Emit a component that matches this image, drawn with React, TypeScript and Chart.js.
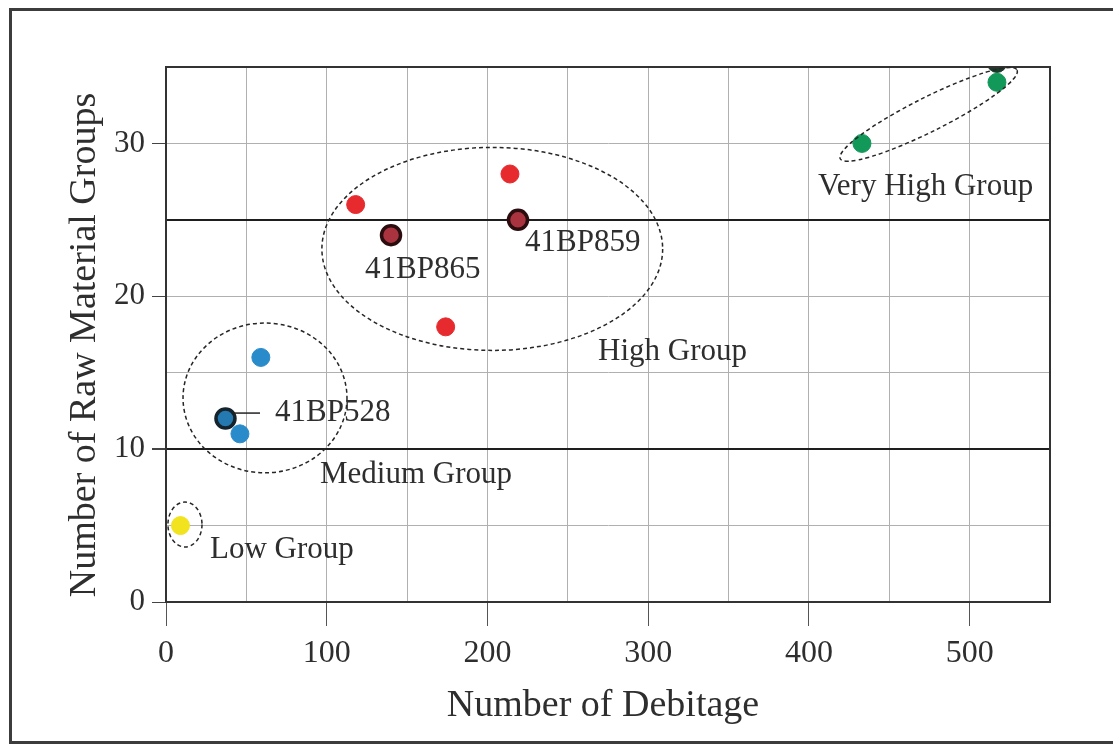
import { useEffect, useRef } from 'react';
import { Chart, registerables } from 'chart.js';

Chart.register(...registerables);

const FONT = "'Liberation Serif', 'Times New Roman', serif";
const INK = '#2e2e2e';

// Samples: number of debitage (x) vs number of raw material groups (y)
const lowDebitage = [9];
const lowGroups = [5];

const mediumDebitage = [59, 46];
const mediumGroups = [16, 11];

const mediumKeyDebitage = [37]; // 41BP528
const mediumKeyGroups = [12];

const highDebitage = [118, 214, 174];
const highGroups = [26, 28, 18];

const highKeyDebitage = [140, 219]; // 41BP865, 41BP859
const highKeyGroups = [24, 25];

const veryHighDebitage = [433, 517];
const veryHighGroups = [30, 34];

const veryHighKeyDebitage = [517];
const veryHighKeyGroups = [35.3];

// Axis ticks
const xTickLabels = [0, 100, 200, 300, 400, 500];
const yTickLabels = [0, 10, 20, 30];
const groupBoundaries = [10, 25];

// Dashed group outlines, in data units
const outlines = [
  { cx: 203, cy: 23.1, rx: 106, ry: 6.64 },
  { cx: 61.6, cy: 13.35, rx: 51, ry: 4.9 },
  { cx: 11.8, cy: 5.07, rx: 10.6, ry: 1.47 },
];
// Tilted outline, given by the two ends of its long axis
const tiltedOutline = { x1: 419.5, y1: 29.0, x2: 529.5, y2: 34.8, halfWidth: 17 };

// Text annotations (left edge, vertical middle), in data units
const annotations = [
  { text: '41BP865', x: 123.8, y: 21.7 },
  { text: '41BP859', x: 223.4, y: 23.5 },
  { text: '41BP528', x: 67.8, y: 12.36 },
  { text: 'High Group', x: 268.8, y: 16.35 },
  { text: 'Medium Group', x: 95.8, y: 8.3 },
  { text: 'Low Group', x: 27.4, y: 3.4 },
  { text: 'Very High Group', x: 405.6, y: 27.15 },
];
const leader = { x1: 41, x2: 58.5, y: 12.36 };

const xTitle = 'Number of Debitage';
const yTitle = 'Number of Raw Material Groups';

const pts = (xs: number[], ys: number[]) => xs.map((x, i) => ({ x, y: ys[i] }));

const decorations = {
  id: 'decorations',
  beforeDraw(chart: any) {
    const { ctx } = chart;
    ctx.save();
    ctx.fillStyle = '#ffffff';
    ctx.fillRect(0, 0, chart.width, chart.height);
    // outer frame
    ctx.strokeStyle = '#3c3c3c';
    ctx.lineWidth = 3;
    ctx.beginPath();
    ctx.moveTo(chart.width + 5, 9.5);
    ctx.lineTo(10.5, 9.5);
    ctx.lineTo(10.5, 742.5);
    ctx.lineTo(chart.width + 5, 742.5);
    ctx.stroke();
    ctx.restore();
  },
  afterDatasetsDraw(chart: any) {
    const { ctx, chartArea: a } = chart;
    const xs = chart.scales.x;
    const ys = chart.scales.y;
    ctx.save();
    // plot frame, top and right
    ctx.strokeStyle = '#333';
    ctx.lineWidth = 2;
    ctx.beginPath();
    ctx.moveTo(a.left, a.top);
    ctx.lineTo(a.right, a.top);
    ctx.lineTo(a.right, a.bottom);
    ctx.stroke();

    // group outlines
    ctx.strokeStyle = '#262626';
    ctx.lineWidth = 1.5;
    ctx.setLineDash([4, 3]);
    outlines.forEach((o) => {
      const cx = xs.getPixelForValue(o.cx);
      const cy = ys.getPixelForValue(o.cy);
      const rx = Math.abs(xs.getPixelForValue(o.cx + o.rx) - cx);
      const ry = Math.abs(ys.getPixelForValue(o.cy + o.ry) - cy);
      ctx.beginPath();
      ctx.ellipse(cx, cy, rx, ry, 0, 0, Math.PI * 2);
      ctx.stroke();
    });
    {
      const px1 = xs.getPixelForValue(tiltedOutline.x1);
      const py1 = ys.getPixelForValue(tiltedOutline.y1);
      const px2 = xs.getPixelForValue(tiltedOutline.x2);
      const py2 = ys.getPixelForValue(tiltedOutline.y2);
      const cx = (px1 + px2) / 2;
      const cy = (py1 + py2) / 2;
      const rx = Math.hypot(px2 - px1, py2 - py1) / 2;
      const ang = Math.atan2(py2 - py1, px2 - px1);
      ctx.beginPath();
      ctx.ellipse(cx, cy, rx, tiltedOutline.halfWidth, ang, 0, Math.PI * 2);
      ctx.stroke();
    }
    ctx.setLineDash([]);

    // leader line to 41BP528
    ctx.strokeStyle = '#222';
    ctx.lineWidth = 1.5;
    ctx.beginPath();
    ctx.moveTo(xs.getPixelForValue(leader.x1), ys.getPixelForValue(leader.y));
    ctx.lineTo(xs.getPixelForValue(leader.x2), ys.getPixelForValue(leader.y));
    ctx.stroke();

    // annotations
    ctx.fillStyle = INK;
    ctx.font = `31px ${FONT}`;
    ctx.textAlign = 'left';
    ctx.textBaseline = 'middle';
    annotations.forEach((t) => {
      ctx.fillText(t.text, xs.getPixelForValue(t.x), ys.getPixelForValue(t.y));
    });

    // axis titles
    ctx.font = `38px ${FONT}`;
    ctx.textAlign = 'center';
    ctx.fillText(xTitle, (a.left + a.right) / 2 - 5, 706);
    ctx.translate(85, 345);
    ctx.rotate(-Math.PI / 2);
    ctx.fillText(yTitle, 0, 0);
    ctx.restore();
  },
};

export default function App() {
  const canvasRef = useRef<HTMLCanvasElement | null>(null);

  useEffect(() => {
    const canvas = canvasRef.current;
    if (!canvas) return;
    const point = (fill: string, border: string, r: number, bw: number) => ({
      backgroundColor: fill,
      borderColor: border,
      pointRadius: r,
      pointBorderWidth: bw,
      pointHoverRadius: r,
    });
    const chart = new Chart(canvas, {
      type: 'scatter',
      data: {
        datasets: [
          { label: 'Medium', data: pts(mediumDebitage, mediumGroups), ...point('#2a8bcb', '#2a8bcb', 9, 1) },
          { label: 'Medium key', data: pts(mediumKeyDebitage, mediumKeyGroups), ...point('#2379b0', '#14232c', 9.5, 3.5) },
          { label: 'Low', data: pts(lowDebitage, lowGroups), ...point('#f2e31f', '#f2e31f', 9, 1) },
          { label: 'High key', data: pts(highKeyDebitage, highKeyGroups), ...point('#a9343f', '#2b0d10', 9.5, 3.5) },
          { label: 'High', data: pts(highDebitage, highGroups), ...point('#e72a2d', '#e72a2d', 9, 1) },
          { label: 'Very high', data: pts(veryHighDebitage, veryHighGroups), ...point('#12995a', '#12995a', 9, 1) },
          { label: 'Very high key', data: pts(veryHighKeyDebitage, veryHighKeyGroups), clip: 0, ...point('#1b3a2a', '#1b3a2a', 10, 1) },
        ] as any,
      },
      options: {
        animation: false,
        responsive: false,
        maintainAspectRatio: false,
        events: [],
        layout: { padding: { top: 67, right: 63, left: 0, bottom: 0 } },
        plugins: { legend: { display: false }, tooltip: { enabled: false } },
        scales: {
          x: {
            type: 'linear',
            min: 0,
            max: 550,
            afterFit: (s: any) => {
              s.height = 142;
            },
            ticks: {
              stepSize: 50,
              autoSkip: false,
              maxRotation: 0,
              padding: 8,
              color: INK,
              font: { family: FONT, size: 32 },
              callback: (v: any) => (xTickLabels.includes(Number(v)) ? String(v) : ''),
            },
            grid: {
              color: '#b0b0b0',
              lineWidth: 1,
              tickLength: 24,
              tickColor: (c: any) => (xTickLabels.includes(c.tick?.value) ? '#555' : 'rgba(0,0,0,0)'),
            },
            border: { color: '#333', width: 2 },
          },
          y: {
            type: 'linear',
            min: 0,
            max: 35,
            afterFit: (s: any) => {
              s.width = 166;
            },
            ticks: {
              stepSize: 5,
              autoSkip: false,
              padding: 7,
              color: INK,
              font: { family: FONT, size: 31 },
              callback: (v: any) => (yTickLabels.includes(Number(v)) ? String(v) : ''),
            },
            grid: {
              color: (c: any) => (groupBoundaries.includes(c.tick?.value) ? '#1e1e1e' : '#b0b0b0'),
              lineWidth: (c: any) => (groupBoundaries.includes(c.tick?.value) ? 2 : 1),
              tickLength: 14,
              tickColor: (c: any) => (yTickLabels.includes(c.tick?.value) ? '#444' : 'rgba(0,0,0,0)'),
            },
            border: { color: '#333', width: 2 },
          },
        },
      },
      plugins: [decorations],
    });
    return () => chart.destroy();
  }, []);

  return (
    <div style={{ position: 'fixed', left: 0, top: 0, width: 1113, height: 744, overflow: 'hidden', background: '#fff' }}>
      <canvas ref={canvasRef} width={1113} height={744} style={{ display: 'block', width: 1113, height: 744 }} />
    </div>
  );
}
